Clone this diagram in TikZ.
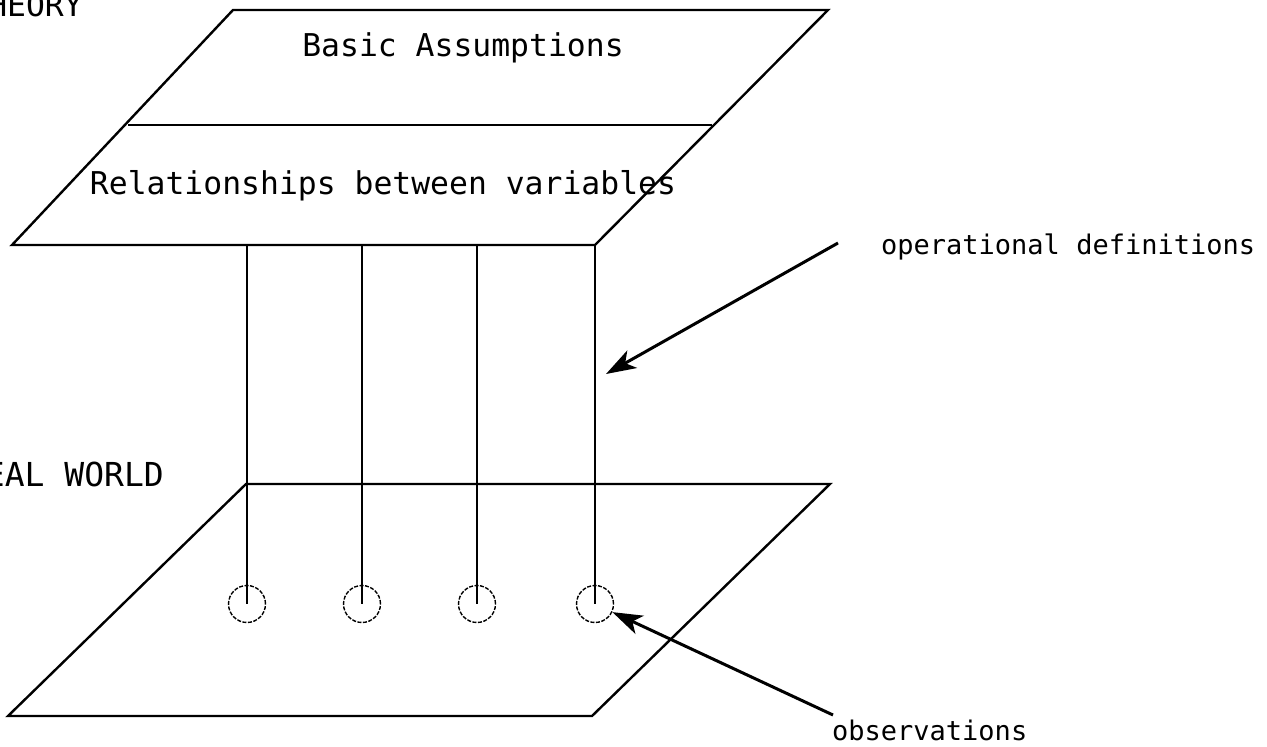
\documentclass[tikz,border=0pt]{standalone}
\usepackage{fontspec}
\newfontfamily\plotfont{DejaVu Sans Mono}
\usetikzlibrary{arrows.meta}
\tikzset{
  plane/.style={line width=2.4pt, line join=miter},
  stem/.style={line width=1.6pt},
  obs/.style={circle, draw, line width=1.4pt, dash pattern=on 4pt off 1.5pt, minimum size=37pt, inner sep=0pt},
  pointer/.style={line width=3pt, -{Stealth[length=30pt, width=20pt, inset=8pt]}},
  biglabel/.style={font=\plotfont\fontsize{31.4}{36}\selectfont, inner sep=0pt, anchor=base},
  smalllabel/.style={font=\plotfont\fontsize{27}{32}\selectfont, inner sep=0pt, anchor=base west},
}
\begin{document}
\begin{tikzpicture}[x=1pt, y=-1pt]
\useasboundingbox (0,0) rectangle (1267,747);
\clip (0,0) rectangle (1267,747);
% theory plane
\coordinate (tA) at (12,245);
\coordinate (tB) at (595,245);
\coordinate (tC) at (828,10);
\coordinate (tD) at (233,10);
\draw[plane] (tA) -- (tB) -- (tC) -- (tD) -- cycle;
\coordinate (mL) at (128,125);
\coordinate (mR) at (712,125);
\draw[plane] (mL) -- (mR);
% real world plane
\coordinate (wA) at (8,716);
\coordinate (wB) at (592,716);
\coordinate (wC) at (830,484);
\coordinate (wD) at (246,484);
\draw[plane] (wA) -- (wB) -- (wC) -- (wD) -- cycle;
% observations and operational definitions
\foreach \i/\x in {1/247,2/362,3/477,4/595}{
  \node[obs] (o\i) at (\x,604) {};
  \coordinate (s\i) at (\x,245);
  \draw[stem] (s\i) -- (o\i.center);
}
% labels
\node[biglabel] (basic) at (463,56) {Basic Assumptions};
\node[biglabel] (rel) at (383,194) {Relationships between variables};
\node[biglabel, anchor=base east] (theory) at (83,16) {THEORY};
\node[biglabel, anchor=base east, font=\plotfont\fontsize{33}{38}\selectfont] (world) at (164,486) {REAL WORLD};
\node[smalllabel] (opdef) at (881,254) {operational definitions};
\node[smalllabel] (obsl) at (832,740) {observations};
% pointers
\coordinate (p1s) at (838,243);
\coordinate (p1e) at (606,374);
\draw[pointer] (p1s) -- (p1e);
\coordinate (p2s) at (833,715);
\draw[pointer] (p2s) -- (o4);
\end{tikzpicture}
\end{document}
